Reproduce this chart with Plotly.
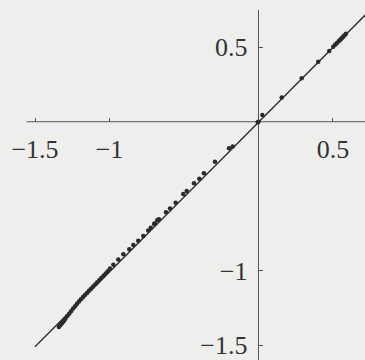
import plotly.graph_objects as go

# view window (data units)
x_range = [-1.735, 0.715]
y_range = [-1.599, 0.817]

# tick positions and labels
x_ticks = [-1.5, -1, 0.5]
x_tick_text = ["\u22121.5", "\u22121", "0.5"]
y_ticks = [-1.5, -1, 0.5]
y_tick_text = ["\u22121.5", "\u22121", "0.5"]

# axis line extents
x_axis_span = [-1.556, 0.8]
y_axis_span = [-1.65, 0.75]

# reference line y = x
line_x = [-1.5, 0.8]
line_y = [-1.51, 0.8]

# sampled points
pts_x = [0.587, 0.578, 0.570, 0.562, 0.554, 0.547, 0.538, 0.525, 0.514, 0.502, 0.475,
         0.401, 0.290, 0.156, 0.026, 0.0, -0.004,
         -0.173, -0.198, -0.292, -0.366, -0.397, -0.433, -0.482, -0.505, -0.556,
         -0.594, -0.621, -0.668, -0.679, -0.695, -0.701, -0.723, -0.740, -0.773,
         -0.807, -0.840, -0.867, -0.907, -0.941, -0.974, -0.997,
         -1.012, -1.026, -1.040, -1.055, -1.068, -1.082, -1.095, -1.110, -1.124,
         -1.138, -1.151, -1.165, -1.178, -1.192, -1.205, -1.218, -1.231, -1.244,
         -1.258, -1.270, -1.283, -1.296, -1.305, -1.314, -1.322, -1.331, -1.340]
pts_y = [0.590, 0.580, 0.572, 0.564, 0.556, 0.549, 0.540, 0.527, 0.516, 0.504, 0.475,
         0.403, 0.292, 0.162, 0.046, 0.0, -0.004,
         -0.167, -0.178, -0.268, -0.346, -0.382, -0.413, -0.464, -0.485, -0.543,
         -0.583, -0.607, -0.654, -0.659, -0.681, -0.686, -0.711, -0.730, -0.766,
         -0.798, -0.827, -0.856, -0.890, -0.925, -0.960, -0.985,
         -1.003, -1.018, -1.033, -1.049, -1.062, -1.077, -1.091, -1.106, -1.121,
         -1.135, -1.149, -1.163, -1.177, -1.192, -1.206, -1.222, -1.238, -1.254,
         -1.272, -1.288, -1.304, -1.322, -1.335, -1.346, -1.356, -1.366, -1.378]

ink = "#2a2a2a"
paper = "#eeeeec"
tick_font = dict(family="Liberation Serif", size=26, color="#333333")

fig = go.Figure()
fig.add_trace(go.Scatter(x=x_axis_span, y=[0, 0], mode="lines",
                         line=dict(color="#555555", width=1), hoverinfo="skip"))
fig.add_trace(go.Scatter(x=[0, 0], y=y_axis_span, mode="lines",
                         line=dict(color="#555555", width=1), hoverinfo="skip"))
fig.add_trace(go.Scatter(x=line_x, y=line_y, mode="lines",
                         line=dict(color=ink, width=1.3)))
fig.add_trace(go.Scatter(x=pts_x, y=pts_y, mode="markers",
                         marker=dict(color=ink, size=4.5, line=dict(width=0))))

x_pos = (0 - y_range[0]) / (y_range[1] - y_range[0])
y_pos = (0 - x_range[0]) / (x_range[1] - x_range[0])

fig.update_layout(
    width=365, height=360,
    margin=dict(l=0, r=0, t=0, b=0),
    paper_bgcolor=paper, plot_bgcolor=paper,
    showlegend=False,
    xaxis=dict(range=x_range, anchor="free", position=x_pos, automargin=False,
               showgrid=False, zeroline=False, showline=False,
               tickvals=x_ticks, ticktext=x_tick_text,
               ticks="inside", ticklen=4, tickcolor="#555555",
               tickfont=tick_font, ticklabelstandoff=9,
               ticklabeloverflow="allow"),
    yaxis=dict(range=y_range, anchor="free", position=y_pos, automargin=False,
               showgrid=False, zeroline=False, showline=False,
               tickvals=y_ticks, ticktext=y_tick_text,
               ticks="inside", ticklen=4, tickcolor="#555555",
               tickfont=tick_font, ticklabelstandoff=11,
               ticklabeloverflow="allow"),
)

# drop the default page margin so the figure sits at the window corner
fig.write_html("out.html", config={"displayModeBar": False}, post_script=(
    "document.body.style.margin='0';"
    "document.body.style.background='" + paper + "';"))
